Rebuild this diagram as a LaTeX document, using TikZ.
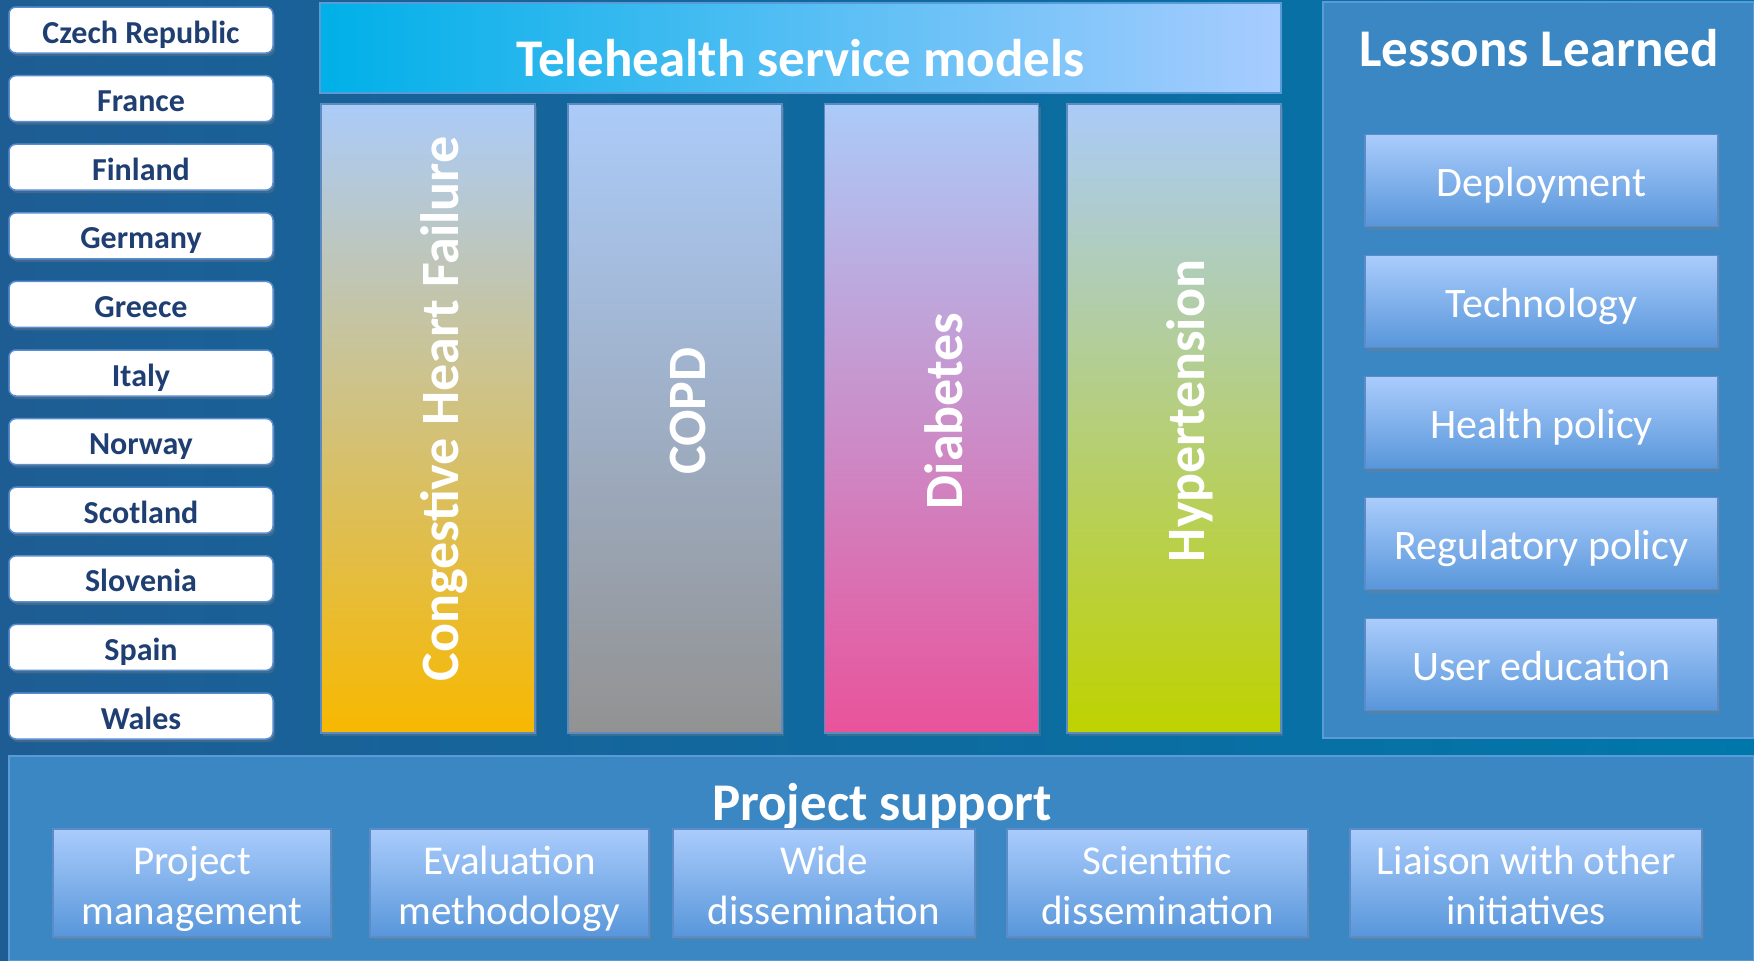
\documentclass[tikz,border=0pt]{standalone}
\usepackage{fontspec}
\setmainfont{Carlito}
\usepackage{graphicx}
\usetikzlibrary{shadows}
\definecolor{bgA}{HTML}{1E5D94}
\definecolor{bgB}{HTML}{0077AA}
\definecolor{panel}{HTML}{3A87C3}
\definecolor{panelBorder}{HTML}{5A9AD6}
\definecolor{ctyText}{HTML}{1F3F73}
\definecolor{ctyBorder}{HTML}{5A8ED0}
\definecolor{itemTop}{HTML}{AACCFC}
\definecolor{itemBot}{HTML}{5896DA}
\definecolor{itemBorder}{HTML}{5B8CC8}
\definecolor{hdrA}{HTML}{00B0E8}
\definecolor{hdrB}{HTML}{A8CCFF}
\definecolor{colTop}{HTML}{ABCBF8}
\definecolor{colBorder}{HTML}{5B8BC0}
\definecolor{chf}{HTML}{F8B800}
\definecolor{copd}{HTML}{929292}
\definecolor{diab}{HTML}{E9539B}
\definecolor{hyper}{HTML}{BFD200}
\newcommand\twolines[2]{\raisebox{-6pt}[\height][\depth]{\begin{tabular}{@{}c@{}}#1\\#2\end{tabular}}}
\begin{document}
\begin{tikzpicture}[x=1pt,y=-1pt,
  shadowed/.style={drop shadow={opacity=0.35,shadow xshift=2pt,shadow yshift=-3pt}},
  country/.style={draw=ctyBorder,line width=1.5pt,rounded corners=7pt,fill=white,
    minimum width=264pt,minimum height=46pt,inner sep=0pt,
    text height=26pt,text depth=0pt,
    font=\fontsize{32}{38}\selectfont\bfseries,text=ctyText,shadowed},
  panelbox/.style={draw=panelBorder,line width=1.5pt,fill=panel,inner sep=0pt},
  title/.style={text=white,font=\fontsize{53}{64}\selectfont\bfseries,inner sep=0pt},
  column/.style={draw=colBorder,line width=1.2pt,top color=colTop,
    minimum width=214pt,minimum height=629pt,inner sep=0pt,shadowed},
  coltext/.style={rotate=90,anchor=base,text=white,
    font=\fontsize{54}{64}\selectfont\bfseries,inner sep=0pt},
  item/.style={draw=itemBorder,line width=1.2pt,top color=itemTop,bottom color=itemBot,
    text=white,inner sep=0pt,shadowed},
  lesson/.style={item,minimum width=353pt,minimum height=92pt,
    text height=31pt,text depth=0pt,
    font=\fontsize{42}{50}\selectfont},
  support/.style={item,minimum height=108pt,
    font=\fontsize{41}{50}\selectfont}
]
\useasboundingbox (0,0) rectangle (1754,961);
\shade[left color=bgA,right color=bgB] (0,0) rectangle (1754,961);

% countries
\foreach \n/\t [count=\i from 0] in {cz/Czech Republic,fr/France,fi/Finland,de/Germany,gr/Greece,it/Italy,no/Norway,sc/Scotland,si/Slovenia,es/Spain,wa/Wales}
  \node[country] (\n) at (141,{30+68.6*\i}) {\t};

% header
\node[draw=panelBorder,line width=1.2pt,left color=hdrA,right color=hdrB,
  minimum width=961pt,minimum height=90pt,inner sep=0pt] (hdr) at (800.5,48) {};
\node[title] (hdrtxt) at (800.5,58) {Telehealth service models};

% columns
\node[column,bottom color=chf] (colA) at (428,418.5) {};
\node[column,bottom color=copd] (colB) at (675,418.5) {};
\node[column,bottom color=diab] (colC) at (931.5,418.5) {};
\node[column,bottom color=hyper] (colD) at (1174,418.5) {};
\node[coltext] (tA) at (458,409) {Congestive Heart Failure};
\node[coltext] (tB) at (705,411) {COPD};
\node[coltext] (tC) at (962,411) {Diabetes};
\node[coltext] (tD) at (1204,411) {Hypertension};

% lessons learned
\node[panelbox,minimum width=431pt,minimum height=736pt] (ll) at (1538.5,370) {};
\node[title] (lltxt) at (1539,48) {Lessons Learned};
\node[lesson] (l1) at (1541.5,180.5) {Deployment};
\node[lesson] (l2) at (1541.5,301.5) {Technology};
\node[lesson] (l3) at (1541.5,422.5) {Health policy};
\node[lesson] (l4) at (1541.5,543.5) {Regulatory policy};
\node[lesson] (l5) at (1541.5,664.5) {User education};

% project support
\node[panelbox,minimum width=1745pt,minimum height=205pt] (ps) at (881.5,858.5) {};
\node[title,anchor=base] (pstxt) at (882,820) {Project support};
\node[support,minimum width=278pt] (s1) at (192,883) {\twolines{Project}{management}};
\node[support,minimum width=279pt] (s2) at (509.5,883) {\twolines{Evaluation}{methodology}};
\node[support,minimum width=302pt] (s3) at (824,883) {\twolines{Wide}{dissemination}};
\node[support,minimum width=301pt] (s4) at (1157.5,883) {\twolines{Scientific}{dissemination}};
\node[support,minimum width=352pt] (s5) at (1526,883) {\twolines{Liaison with other}{initiatives}};
\end{tikzpicture}
\end{document}
